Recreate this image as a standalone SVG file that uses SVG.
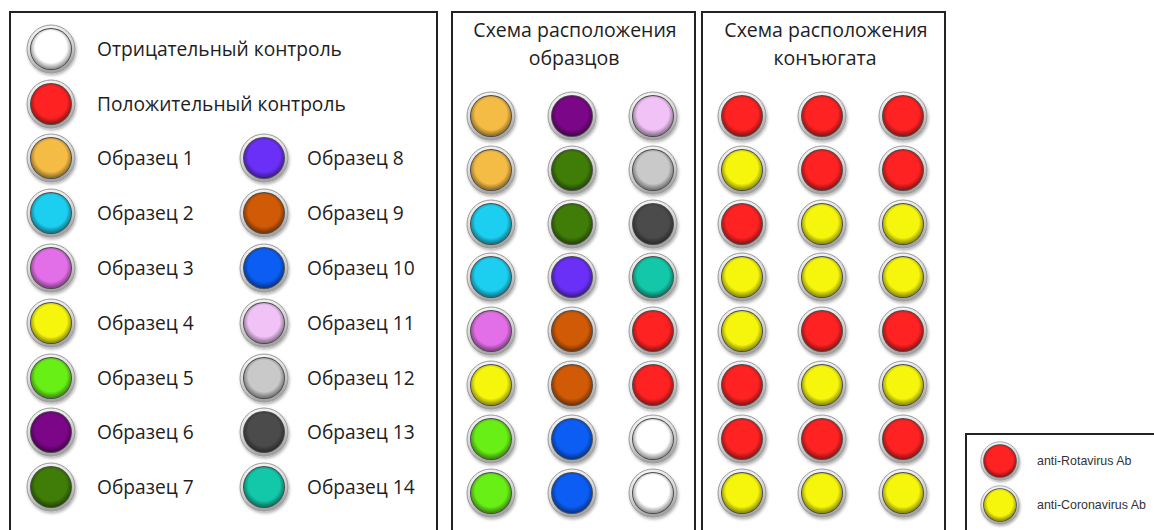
<svg xmlns="http://www.w3.org/2000/svg" xmlns:xlink="http://www.w3.org/1999/xlink" width="1154" height="530" viewBox="0 0 1154 530">
<style>
.frame{fill:none;stroke:#222;stroke-width:2}
.lbl{font-family:"Open Sans","Noto Sans",sans-serif;font-size:19.2px;fill:#1e1e1e}
.ttl{font-family:"Open Sans","Noto Sans",sans-serif;font-size:19.5px;fill:#1e1e1e;text-anchor:middle}
.small{font-family:"Liberation Sans",Arial,sans-serif;font-size:12.4px;fill:#333}
</style>
<defs>
<linearGradient id="ringG" x1="0" y1="0" x2="0.3" y2="1">
<stop offset="0" stop-color="#fbfbfb"/>
<stop offset="0.5" stop-color="#dcdcdc"/>
<stop offset="1" stop-color="#a4a4a4"/>
</linearGradient>
<radialGradient id="shade" cx="0.5" cy="0.45" r="0.55">
<stop offset="0.72" stop-color="#000" stop-opacity="0"/>
<stop offset="1" stop-color="#000" stop-opacity="0.45"/>
</radialGradient>
<filter id="sh" x="-30%" y="-30%" width="160%" height="160%">
<feDropShadow dx="1" dy="2" stdDeviation="1.6" flood-color="#000" flood-opacity="0.3"/>
</filter>
<g id="ring">
<circle r="24" fill="url(#ringG)" stroke="#9a9a9a" stroke-width="1" filter="url(#sh)"/>
<circle r="21" fill="#4a4a4a"/>
</g>
<circle id="sd" r="20" fill="url(#shade)"/>
</defs>

<g id="frames">
<path class="frame" d="M10,532 V12 H437 V532"/>
<path class="frame" d="M452,532 V12 H695 V532"/>
<path class="frame" d="M702,532 V12 H945 V532"/>
<path class="frame" d="M966,532 V434 H1156"/>
</g>

<g id="legend-main">
<g id="neg"><g transform="translate(51,49)"><use href="#ring"/><circle r="20" fill="#fff"/><use href="#sd"/></g><text class="lbl" x="97" y="56">Отрицательный контроль</text></g>
<g id="pos"><g transform="translate(51,104)"><use href="#ring"/><circle r="20" fill="#ff2222"/><use href="#sd"/></g><text class="lbl" x="97" y="111">Положительный контроль</text></g>
<g id="s1"><g transform="translate(51,158)"><use href="#ring"/><circle r="20" fill="#f5bc45"/><use href="#sd"/></g><text class="lbl" x="97" y="165">Образец 1</text></g>
<g id="s2"><g transform="translate(51,213)"><use href="#ring"/><circle r="20" fill="#1ccff0"/><use href="#sd"/></g><text class="lbl" x="97" y="220">Образец 2</text></g>
<g id="s3"><g transform="translate(51,268)"><use href="#ring"/><circle r="20" fill="#e36fe8"/><use href="#sd"/></g><text class="lbl" x="97" y="275">Образец 3</text></g>
<g id="s4"><g transform="translate(51,323)"><use href="#ring"/><circle r="20" fill="#f6f60c"/><use href="#sd"/></g><text class="lbl" x="97" y="330">Образец 4</text></g>
<g id="s5"><g transform="translate(51,378)"><use href="#ring"/><circle r="20" fill="#68ef16"/><use href="#sd"/></g><text class="lbl" x="97" y="385">Образец 5</text></g>
<g id="s6"><g transform="translate(51,432)"><use href="#ring"/><circle r="20" fill="#7b0688"/><use href="#sd"/></g><text class="lbl" x="97" y="439">Образец 6</text></g>
<g id="s7"><g transform="translate(51,487)"><use href="#ring"/><circle r="20" fill="#3f7c08"/><use href="#sd"/></g><text class="lbl" x="97" y="494">Образец 7</text></g>
<g id="s8"><g transform="translate(264,158)"><use href="#ring"/><circle r="20" fill="#6b30f8"/><use href="#sd"/></g><text class="lbl" x="307" y="165">Образец 8</text></g>
<g id="s9"><g transform="translate(264,213)"><use href="#ring"/><circle r="20" fill="#d05a06"/><use href="#sd"/></g><text class="lbl" x="307" y="220">Образец 9</text></g>
<g id="s10"><g transform="translate(264,268)"><use href="#ring"/><circle r="20" fill="#0b5df3"/><use href="#sd"/></g><text class="lbl" x="307" y="275">Образец 10</text></g>
<g id="s11"><g transform="translate(264,323)"><use href="#ring"/><circle r="20" fill="#f0c2f6"/><use href="#sd"/></g><text class="lbl" x="307" y="330">Образец 11</text></g>
<g id="s12"><g transform="translate(264,378)"><use href="#ring"/><circle r="20" fill="#c9c9c9"/><use href="#sd"/></g><text class="lbl" x="307" y="385">Образец 12</text></g>
<g id="s13"><g transform="translate(264,432)"><use href="#ring"/><circle r="20" fill="#4b4b4b"/><use href="#sd"/></g><text class="lbl" x="307" y="439">Образец 13</text></g>
<g id="s14"><g transform="translate(264,487)"><use href="#ring"/><circle r="20" fill="#13c7a9"/><use href="#sd"/></g><text class="lbl" x="307" y="494">Образец 14</text></g>
</g>

<g id="samples">
<text class="ttl" x="575" y="37">Схема расположения</text>
<text class="ttl" x="574" y="65">образцов</text>
<g transform="translate(491,116)"><use href="#ring"/><circle r="20" fill="#f5bc45"/><use href="#sd"/></g>
<g transform="translate(572,116)"><use href="#ring"/><circle r="20" fill="#7b0688"/><use href="#sd"/></g>
<g transform="translate(653,116)"><use href="#ring"/><circle r="20" fill="#f0c2f6"/><use href="#sd"/></g>
<g transform="translate(491,170)"><use href="#ring"/><circle r="20" fill="#f5bc45"/><use href="#sd"/></g>
<g transform="translate(572,170)"><use href="#ring"/><circle r="20" fill="#3f7c08"/><use href="#sd"/></g>
<g transform="translate(653,170)"><use href="#ring"/><circle r="20" fill="#c9c9c9"/><use href="#sd"/></g>
<g transform="translate(491,224)"><use href="#ring"/><circle r="20" fill="#1ccff0"/><use href="#sd"/></g>
<g transform="translate(572,224)"><use href="#ring"/><circle r="20" fill="#3f7c08"/><use href="#sd"/></g>
<g transform="translate(653,224)"><use href="#ring"/><circle r="20" fill="#4b4b4b"/><use href="#sd"/></g>
<g transform="translate(491,277)"><use href="#ring"/><circle r="20" fill="#1ccff0"/><use href="#sd"/></g>
<g transform="translate(572,277)"><use href="#ring"/><circle r="20" fill="#6b30f8"/><use href="#sd"/></g>
<g transform="translate(653,277)"><use href="#ring"/><circle r="20" fill="#13c7a9"/><use href="#sd"/></g>
<g transform="translate(491,331)"><use href="#ring"/><circle r="20" fill="#e36fe8"/><use href="#sd"/></g>
<g transform="translate(572,331)"><use href="#ring"/><circle r="20" fill="#d05a06"/><use href="#sd"/></g>
<g transform="translate(653,331)"><use href="#ring"/><circle r="20" fill="#ff2222"/><use href="#sd"/></g>
<g transform="translate(491,385)"><use href="#ring"/><circle r="20" fill="#f6f60c"/><use href="#sd"/></g>
<g transform="translate(572,385)"><use href="#ring"/><circle r="20" fill="#d05a06"/><use href="#sd"/></g>
<g transform="translate(653,385)"><use href="#ring"/><circle r="20" fill="#ff2222"/><use href="#sd"/></g>
<g transform="translate(491,439)"><use href="#ring"/><circle r="20" fill="#68ef16"/><use href="#sd"/></g>
<g transform="translate(572,439)"><use href="#ring"/><circle r="20" fill="#0b5df3"/><use href="#sd"/></g>
<g transform="translate(653,439)"><use href="#ring"/><circle r="20" fill="#fff"/><use href="#sd"/></g>
<g transform="translate(491,493)"><use href="#ring"/><circle r="20" fill="#68ef16"/><use href="#sd"/></g>
<g transform="translate(572,493)"><use href="#ring"/><circle r="20" fill="#0b5df3"/><use href="#sd"/></g>
<g transform="translate(653,493)"><use href="#ring"/><circle r="20" fill="#fff"/><use href="#sd"/></g>
</g>

<g id="conjugate">
<text class="ttl" x="826" y="37">Схема расположения</text>
<text class="ttl" x="825" y="65">конъюгата</text>
<g transform="translate(742,116)"><use href="#ring"/><circle r="20" fill="#ff2222"/><use href="#sd"/></g>
<g transform="translate(822,116)"><use href="#ring"/><circle r="20" fill="#ff2222"/><use href="#sd"/></g>
<g transform="translate(903,116)"><use href="#ring"/><circle r="20" fill="#ff2222"/><use href="#sd"/></g>
<g transform="translate(742,170)"><use href="#ring"/><circle r="20" fill="#f6f60c"/><use href="#sd"/></g>
<g transform="translate(822,170)"><use href="#ring"/><circle r="20" fill="#ff2222"/><use href="#sd"/></g>
<g transform="translate(903,170)"><use href="#ring"/><circle r="20" fill="#ff2222"/><use href="#sd"/></g>
<g transform="translate(742,224)"><use href="#ring"/><circle r="20" fill="#ff2222"/><use href="#sd"/></g>
<g transform="translate(822,224)"><use href="#ring"/><circle r="20" fill="#f6f60c"/><use href="#sd"/></g>
<g transform="translate(903,224)"><use href="#ring"/><circle r="20" fill="#f6f60c"/><use href="#sd"/></g>
<g transform="translate(742,277)"><use href="#ring"/><circle r="20" fill="#f6f60c"/><use href="#sd"/></g>
<g transform="translate(822,277)"><use href="#ring"/><circle r="20" fill="#f6f60c"/><use href="#sd"/></g>
<g transform="translate(903,277)"><use href="#ring"/><circle r="20" fill="#f6f60c"/><use href="#sd"/></g>
<g transform="translate(742,331)"><use href="#ring"/><circle r="20" fill="#f6f60c"/><use href="#sd"/></g>
<g transform="translate(822,331)"><use href="#ring"/><circle r="20" fill="#ff2222"/><use href="#sd"/></g>
<g transform="translate(903,331)"><use href="#ring"/><circle r="20" fill="#ff2222"/><use href="#sd"/></g>
<g transform="translate(742,385)"><use href="#ring"/><circle r="20" fill="#ff2222"/><use href="#sd"/></g>
<g transform="translate(822,385)"><use href="#ring"/><circle r="20" fill="#f6f60c"/><use href="#sd"/></g>
<g transform="translate(903,385)"><use href="#ring"/><circle r="20" fill="#f6f60c"/><use href="#sd"/></g>
<g transform="translate(742,439)"><use href="#ring"/><circle r="20" fill="#ff2222"/><use href="#sd"/></g>
<g transform="translate(822,439)"><use href="#ring"/><circle r="20" fill="#ff2222"/><use href="#sd"/></g>
<g transform="translate(903,439)"><use href="#ring"/><circle r="20" fill="#ff2222"/><use href="#sd"/></g>
<g transform="translate(742,493)"><use href="#ring"/><circle r="20" fill="#f6f60c"/><use href="#sd"/></g>
<g transform="translate(822,493)"><use href="#ring"/><circle r="20" fill="#f6f60c"/><use href="#sd"/></g>
<g transform="translate(903,493)"><use href="#ring"/><circle r="20" fill="#f6f60c"/><use href="#sd"/></g>
</g>

<g id="legend-ab">
<g id="rota"><g transform="translate(1000,461) scale(0.8)"><use href="#ring"/><circle r="20" fill="#ff2222"/><use href="#sd"/></g><text class="small" x="1037" y="465">anti-Rotavirus Ab</text></g>
<g id="corona"><g transform="translate(1000,505) scale(0.8)"><use href="#ring"/><circle r="20" fill="#f6f60c"/><use href="#sd"/></g><text class="small" x="1037" y="509">anti-Coronavirus Ab</text></g>
</g>
</svg>
